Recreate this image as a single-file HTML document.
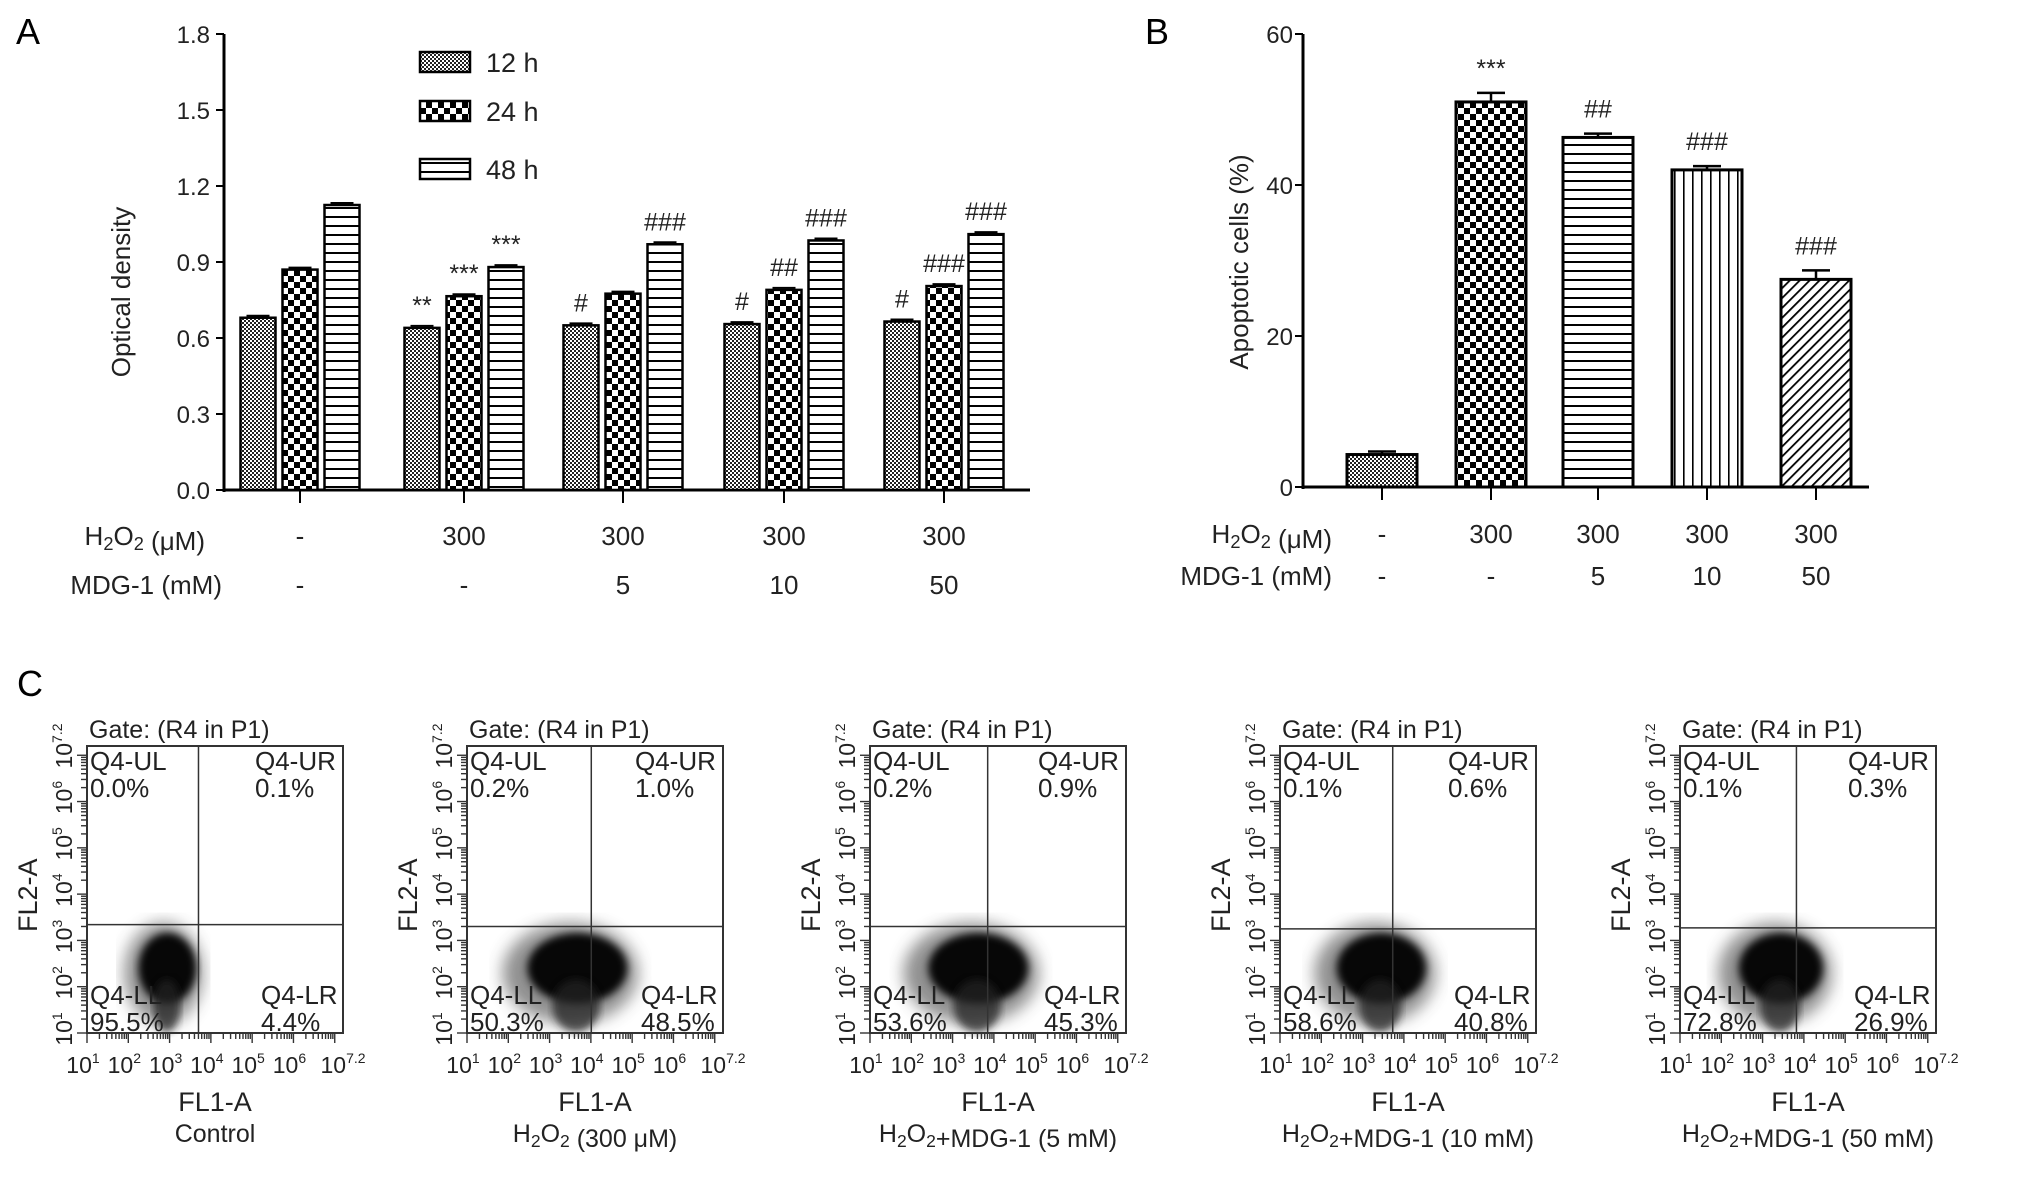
<!DOCTYPE html>
<html><head><meta charset="utf-8"><style>
body{margin:0;background:#fff;}
svg{display:block;font-family:"Liberation Sans",Arial,sans-serif;}
</style></head><body>
<svg id="fig" width="2031" height="1178" viewBox="0 0 2031 1178">
<defs>
<pattern id="pFine" width="4" height="4" patternUnits="userSpaceOnUse"><rect width="4" height="4" fill="#fff"/><rect width="2" height="2" fill="#222"/><rect x="2" y="2" width="2" height="2" fill="#222"/></pattern>
<pattern id="pCoarse" width="12" height="12" patternUnits="userSpaceOnUse"><rect width="12" height="12" fill="#fff"/><rect width="6" height="6" fill="#000"/><rect x="6" y="6" width="6" height="6" fill="#000"/></pattern>
<pattern id="pHoriz" width="10" height="9" patternUnits="userSpaceOnUse"><rect width="10" height="9" fill="#fff"/><rect y="0" width="10" height="2" fill="#000"/></pattern>
<pattern id="pVert" width="9" height="10" patternUnits="userSpaceOnUse"><rect width="9" height="10" fill="#fff"/><rect x="0" width="1.6" height="10" fill="#000"/></pattern>
<pattern id="pDiag" width="7" height="7" patternUnits="userSpaceOnUse" patternTransform="rotate(45)"><rect width="7" height="7" fill="#fff"/><rect width="1.8" height="7" fill="#000"/></pattern>
<filter id="blur"><feGaussianBlur stdDeviation="4"/></filter>
<filter id="blur2"><feGaussianBlur stdDeviation="8"/></filter>
</defs>
<g id="gA"></g>
<g id="gB"></g>
<g id="gC"></g>
</svg>
<script>
// Panel A data
const aGroups = ["ctrl","h2o2","mdg5","mdg10","mdg50"];
const aH2O2 = ["-","300","300","300","300"];
const aMDG = ["-","-","5","10","50"];
const a12h = [0.68,0.64,0.65,0.655,0.665];
const a24h = [0.87,0.765,0.775,0.79,0.805];
const a48h = [1.125,0.88,0.97,0.985,1.01];
const a12hSig = ["","**","#","#","#"];
const a24hSig = ["","***","","##","###"];
const a48hSig = ["","***","###","###","###"];
const aTicks = ["0.0","0.3","0.6","0.9","1.2","1.5","1.8"];
// Panel B data
const bValues = [4.3,51,46.3,42,27.5];
const bErr = [0.4,1.2,0.5,0.5,1.2];
const bSig = ["","***","##","###","###"];
const bH2O2 = ["-","300","300","300","300"];
const bMDG = ["-","-","5","10","50"];
const bTicks = [0,20,40,60];
// Panel C data
const cTitles = ["Control","H2O2 (300 μM)","H2O2+MDG-1 (5 mM)","H2O2+MDG-1 (10 mM)","H2O2+MDG-1 (50 mM)"];
const cUL = ["0.0%","0.2%","0.2%","0.1%","0.1%"];
const cUR = ["0.1%","1.0%","0.9%","0.6%","0.3%"];
const cLL = ["95.5%","50.3%","53.6%","58.6%","72.8%"];
const cLR = ["4.4%","48.5%","45.3%","40.8%","26.9%"];
const cVLine = [3.7,4.01,3.85,3.73,3.82];
const cHLine = [3.34,3.3,3.3,3.25,3.27];
const cCloudX = [2.85,3.5,3.45,3.3,3.3];
const cCloudSpread = [1.1,1.9,1.9,1.7,1.6];

const NS="http://www.w3.org/2000/svg";
function mk(parent,tag,attrs,text){const e=document.createElementNS(NS,tag);for(const k in attrs)e.setAttribute(k,attrs[k]);if(text!==undefined)e.textContent=text;parent.appendChild(e);return e;}
const H2='H<tspan font-size="0.7em" dy="5">2</tspan><tspan dy="-5">O</tspan><tspan font-size="0.7em" dy="5">2</tspan><tspan dy="-5"></tspan>';

// ---------- Panel A ----------
const gA=document.getElementById('gA');
const aY0=490,aY1=34,aMax=1.8,aAxisX=224,aRight=1030;
const aCenters=[300,464,623,784,944];
const aY=v=>aY0-(v/aMax)*(aY0-aY1);
let t=mk(gA,'text',{x:16,y:44,'font-size':36},'A');

let l=mk(gA,'line',{x1:aAxisX,y1:aY1,x2:aAxisX,y2:aY0+2,stroke:'#000','stroke-width':3});

l=mk(gA,'line',{x1:aAxisX,y1:aY0,x2:aRight,y2:aY0,stroke:'#000','stroke-width':3});

aTicks.forEach(s=>{const v=parseFloat(s);const y=aY(v);
 mk(gA,'line',{x1:aAxisX-8,y1:y,x2:aAxisX,y2:y,stroke:'#000','stroke-width':2});
 const tt=mk(gA,'text',{x:aAxisX-14,y:y+9,'font-size':24,'text-anchor':'end',fill:'#222'},s);
 });
t=mk(gA,'text',{x:0,y:0,'font-size':26,'text-anchor':'middle',transform:'translate(130,292) rotate(-90)',fill:'#222'},'Optical density');

const aSeries=[[a12h,'url(#pFine)',a12hSig,-42],[a24h,'url(#pCoarse)',a24hSig,0],[a48h,'url(#pHoriz)',a48hSig,42]];
aCenters.forEach((cx,i)=>{
 mk(gA,'line',{x1:cx,y1:aY0,x2:cx,y2:aY0+13,stroke:'#000','stroke-width':2});
 aSeries.forEach((s,k)=>{const v=s[0][i];const x=cx+s[3]-17.5;const y=aY(v);
  const r=mk(gA,'rect',{x:x,y:y,width:35,height:aY0-y,fill:s[1],stroke:'#000','stroke-width':2.5});
  
  mk(gA,'line',{x1:x+6,y1:y-2,x2:x+29,y2:y-2,stroke:'#000','stroke-width':2});
  if(s[2][i]){const a=mk(gA,'text',{x:x+17.5,y:y-14,'font-size':25,'text-anchor':'middle',fill:'#222'},s[2][i]);
   }
 });
 let e=mk(gA,'text',{x:cx,y:545,'font-size':26,'text-anchor':'middle',fill:'#222'},aH2O2[i]);
 
 e=mk(gA,'text',{x:cx,y:594,'font-size':26,'text-anchor':'middle',fill:'#222'},aMDG[i]);
 
});
t=mk(gA,'text',{x:205,y:545,'font-size':26,'text-anchor':'end',fill:'#222'});t.innerHTML=H2+' (μM)';

t=mk(gA,'text',{x:222,y:594,'font-size':26,'text-anchor':'end',fill:'#222'},'MDG-1 (mM)');

[['12 h','url(#pFine)',52],['24 h','url(#pCoarse)',101],['48 h','url(#pHoriz)',159]].forEach(L=>{
 const g=mk(gA,'g',{});
 mk(g,'rect',{x:420,y:L[2],width:50,height:20,fill:L[1],stroke:'#000','stroke-width':2.5});
 mk(g,'text',{x:486,y:L[2]+20,'font-size':27,fill:'#222'},L[0]);});

// ---------- Panel B ----------
const gB=document.getElementById('gB');
const bY0=487,bY1=34,bMax=60,bAxisX=1303,bRight=1869;
const bCenters=[1382,1491,1598,1707,1816];
const bFills=['url(#pFine)','url(#pCoarse)','url(#pHoriz)','url(#pVert)','url(#pDiag)'];
const bY=v=>bY0-(v/bMax)*(bY0-bY1);
t=mk(gB,'text',{x:1145,y:44,'font-size':36},'B');

l=mk(gB,'line',{x1:bAxisX,y1:bY1,x2:bAxisX,y2:bY0+2,stroke:'#000','stroke-width':3});

l=mk(gB,'line',{x1:bAxisX,y1:bY0,x2:bRight,y2:bY0,stroke:'#000','stroke-width':3});

bTicks.forEach(v=>{const y=bY(v);
 mk(gB,'line',{x1:bAxisX-8,y1:y,x2:bAxisX,y2:y,stroke:'#000','stroke-width':2});
 const tt=mk(gB,'text',{x:bAxisX-10,y:y+9,'font-size':24,'text-anchor':'end',fill:'#222'},String(v));
 });
t=mk(gB,'text',{x:0,y:0,'font-size':26,'text-anchor':'middle',transform:'translate(1248,262) rotate(-90)',fill:'#222'},'Apoptotic cells (%)');

bCenters.forEach((cx,i)=>{
 mk(gB,'line',{x1:cx,y1:bY0,x2:cx,y2:bY0+13,stroke:'#000','stroke-width':2});
 const v=bValues[i],y=bY(v),x=cx-35;
 const r=mk(gB,'rect',{x:x,y:y,width:70,height:bY0-y,fill:bFills[i],stroke:'#000','stroke-width':3});
 
 const ye=bY(v+bErr[i]);
 mk(gB,'line',{x1:cx,y1:y,x2:cx,y2:ye,stroke:'#000','stroke-width':2.5});
 mk(gB,'line',{x1:cx-14,y1:ye,x2:cx+14,y2:ye,stroke:'#000','stroke-width':2.5});
 if(bSig[i]){const a=mk(gB,'text',{x:cx,y:ye-16,'font-size':25,'text-anchor':'middle',fill:'#222'},bSig[i]);
  }
 let e=mk(gB,'text',{x:cx,y:543,'font-size':26,'text-anchor':'middle',fill:'#222'},bH2O2[i]);
 
 e=mk(gB,'text',{x:cx,y:585,'font-size':26,'text-anchor':'middle',fill:'#222'},bMDG[i]);
 
});
t=mk(gB,'text',{x:1332,y:543,'font-size':26,'text-anchor':'end',fill:'#222'});t.innerHTML=H2+' (μM)';

t=mk(gB,'text',{x:1332,y:585,'font-size':26,'text-anchor':'end',fill:'#222'},'MDG-1 (mM)');


// ---------- Panel C ----------
const gC=document.getElementById('gC');
t=mk(gC,'text',{x:17,y:696,'font-size':36},'C');

const cLefts=[87,467,870,1280,1680];
const W=256,H=287,TOP=746,LMIN=1,LMAX=7.2;
const sup=s=>'10<tspan font-size="14" dy="-10">'+s+'</tspan>';
cLefts.forEach((L,i)=>{
 const g=mk(gC,'g',{});
 const X=v=>L+(v-LMIN)/(LMAX-LMIN)*W, Y=v=>TOP+H-(v-LMIN)/(LMAX-LMIN)*H;
 const cx=X(cCloudX[i]), cy=Y(2.4), rx=cCloudSpread[i]*W/6.2*0.75, ry=H/6.2*0.95;
 const cl=mk(g,'ellipse',{cx:cx,cy:cy+5,rx:rx*1.15,ry:ry*1.15,fill:'#444',filter:'url(#blur2)',opacity:0.6});
 
 mk(g,'ellipse',{cx:cx+rx*0.12,cy:cy,rx:rx*0.85,ry:ry*0.8,fill:'#000',filter:'url(#blur)',opacity:0.95});
 mk(g,'ellipse',{cx:cx+rx*0.1,cy:cy+ry*0.85,rx:rx*0.4,ry:ry*0.6,fill:'#222',filter:'url(#blur)',opacity:0.75});
 mk(g,'rect',{x:L,y:TOP,width:W,height:H,fill:'none',stroke:'#333','stroke-width':2});
 mk(g,'line',{x1:X(cVLine[i]),y1:TOP,x2:X(cVLine[i]),y2:TOP+H,stroke:'#333','stroke-width':1.5});
 mk(g,'line',{x1:L,y1:Y(cHLine[i]),x2:L+W,y2:Y(cHLine[i]),stroke:'#333','stroke-width':1.5});
 for(let d=1;d<7.2;d++){for(let m=1;m<10;m++){const v=d+Math.log10(m);if(v>7.2)break;const len=m===1?10:6;
  mk(g,'line',{x1:L-len,y1:Y(v),x2:L,y2:Y(v),stroke:'#333','stroke-width':1.4});
  mk(g,'line',{x1:X(v),y1:TOP+H,x2:X(v),y2:TOP+H+len,stroke:'#333','stroke-width':1.4});}}
 const labs=['1','2','3','4','5','6','7.2'];
 labs.forEach(s=>{const v=parseFloat(s);
  const xt=mk(g,'text',{x:X(v)-(s==='7.2'?0:4),y:TOP+H+40,'font-size':23,'text-anchor':'middle',fill:'#222'});xt.innerHTML=sup(s);
  
  const yt=mk(g,'text',{x:0,y:0,'font-size':23,'text-anchor':'middle',fill:'#222',transform:'translate('+(L-15)+','+(Y(v)-(s==='7.2'?0:4))+') rotate(-90)'});yt.innerHTML=sup(s);
  });
 let e=mk(g,'text',{x:L+2,y:TOP-8,'font-size':25,fill:'#222'},'Gate: (R4 in P1)');
 
 [['Q4-UL',cUL[i],L+3,TOP+24],['Q4-UR',cUR[i],L+W-88,TOP+24],['Q4-LL',cLL[i],L+3,TOP+H-29],['Q4-LR',cLR[i],L+W-82,TOP+H-29]].forEach(q=>{
  const a=mk(g,'text',{x:q[2],y:q[3],'font-size':26,fill:'#222'},q[0]);
  
  const b=mk(g,'text',{x:q[2],y:q[3]+27,'font-size':26,fill:'#222'},q[1]);
  });
 e=mk(g,'text',{x:0,y:0,'font-size':27,'text-anchor':'middle',fill:'#222',transform:'translate('+(L-50)+','+(TOP+H*0.52)+') rotate(-90)'},'FL2-A');
 
 e=mk(g,'text',{x:L+W/2,y:1111,'font-size':27,'text-anchor':'middle',fill:'#222'},'FL1-A');
 
 e=mk(g,'text',{x:L+W/2,y:1142,'font-size':25,'text-anchor':'middle',fill:'#222'});
 e.innerHTML=cTitles[i].replace('H2O2',H2);
 
});
</script>
</body></html>
